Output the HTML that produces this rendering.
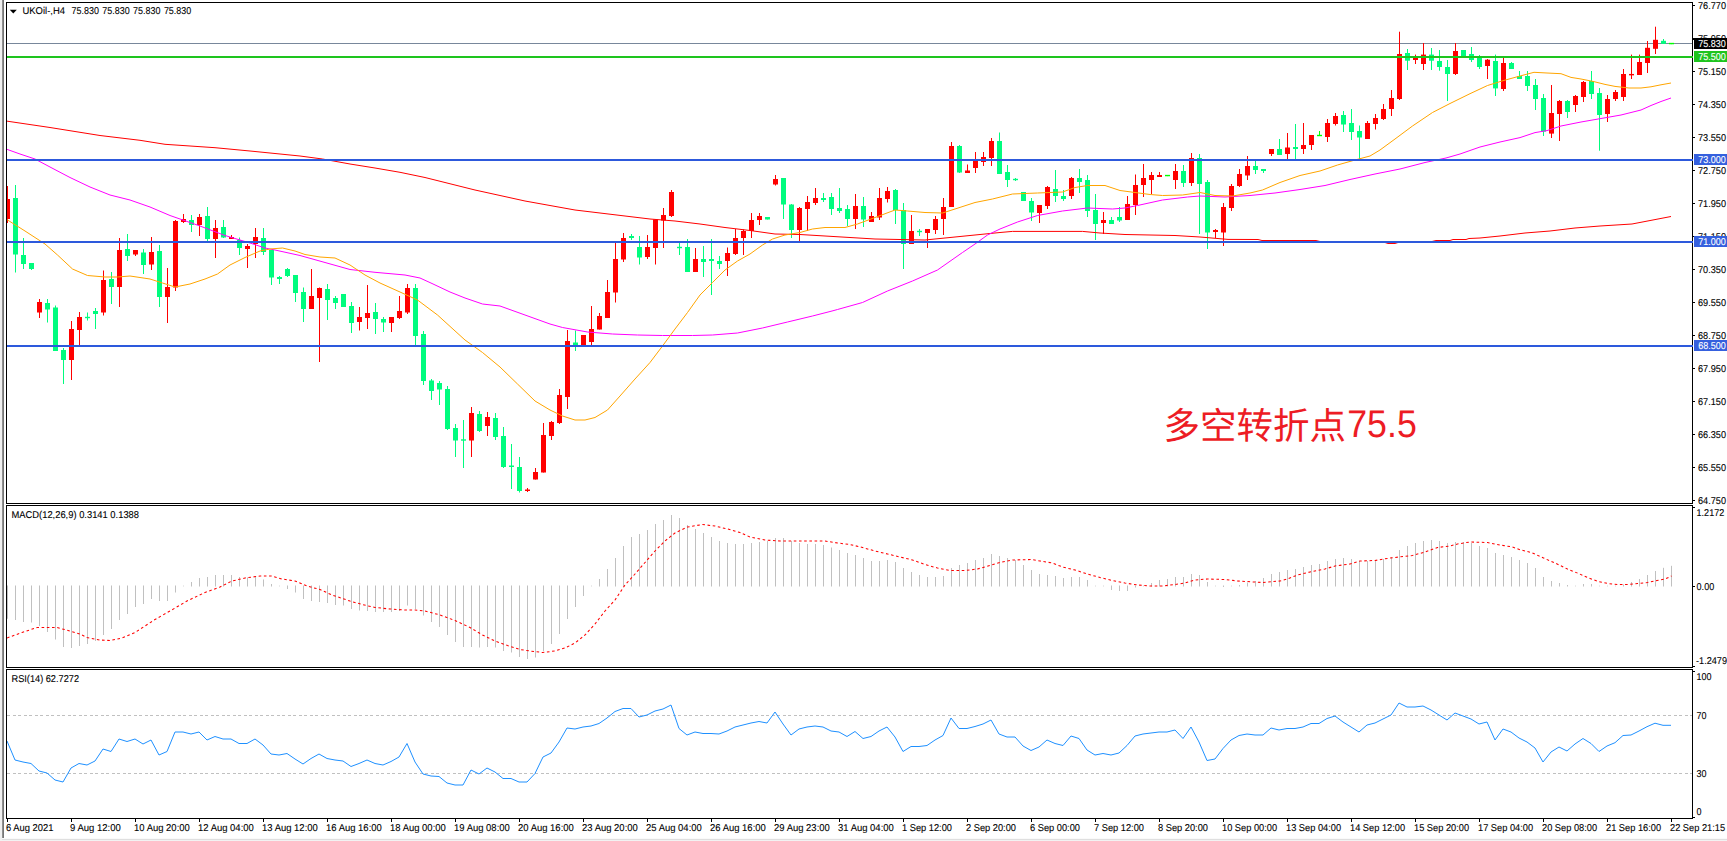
<!DOCTYPE html>
<html lang="zh"><head><meta charset="utf-8"><title>UKOil H4</title>
<style>html,body{margin:0;padding:0;background:#fff;overflow:hidden}svg{display:block}</style></head>
<body>
<svg width="1727" height="841" viewBox="0 0 1727 841" font-family="'Liberation Sans', sans-serif" font-size="9.9px" text-rendering="geometricPrecision">
<rect x="0" y="0" width="1727" height="841" fill="#fff"/>
<g shape-rendering="crispEdges">
<rect x="0" y="0" width="2" height="841" fill="#f0f0f0"/>
<rect x="2" y="0" width="1" height="839" fill="#8f8f8f"/>
<rect x="3" y="0" width="1" height="839" fill="#767676"/>
</g>
<rect x="2" y="838" width="1727" height="1" fill="#fafafa"/>
<rect x="2" y="839" width="1727" height="1" fill="#dfdfdf"/>
<rect x="0" y="840" width="1727" height="1" fill="#f2f2f2"/>
<g shape-rendering="crispEdges">
<rect x="6" y="2" width="1687" height="1" fill="#000"/>
<rect x="6" y="503" width="1687" height="1" fill="#000"/>
<rect x="6" y="2" width="1" height="502" fill="#000"/>
<rect x="1692" y="2" width="1" height="502" fill="#000"/>
<rect x="6" y="505" width="1687" height="1" fill="#000"/>
<rect x="6" y="667" width="1687" height="1" fill="#000"/>
<rect x="6" y="505" width="1" height="163" fill="#000"/>
<rect x="1692" y="505" width="1" height="163" fill="#000"/>
<rect x="6" y="669" width="1687" height="1" fill="#000"/>
<rect x="6" y="818" width="1687" height="1" fill="#000"/>
<rect x="6" y="669" width="1" height="150" fill="#000"/>
<rect x="1692" y="669" width="1" height="150" fill="#000"/>
</g>
<defs><clipPath id="cm"><rect x="7" y="3" width="1685" height="500"/></clipPath><clipPath id="c2"><rect x="7" y="506" width="1685" height="161"/></clipPath><clipPath id="c3"><rect x="7" y="670" width="1685" height="148"/></clipPath></defs>
<g shape-rendering="crispEdges">
<rect x="7" y="43" width="1685" height="1" fill="#78879b"/>
</g>
<g clip-path="url(#cm)">
<rect x="7" y="186" width="1" height="37" fill="#ff0000"/>
<rect x="5" y="199" width="5" height="20" fill="#ff0000"/>
<rect x="15" y="185" width="1" height="87.5" fill="#00fc7e"/>
<rect x="13" y="198" width="5" height="56.5" fill="#00fc7e"/>
<rect x="23" y="238" width="1" height="31" fill="#00fc7e"/>
<rect x="21" y="255" width="5" height="9" fill="#00fc7e"/>
<rect x="31" y="263" width="1" height="7" fill="#00fc7e"/>
<rect x="29" y="263" width="5" height="6" fill="#00fc7e"/>
<rect x="39" y="299" width="1" height="19" fill="#ff0000"/>
<rect x="37" y="302" width="5" height="10.5" fill="#ff0000"/>
<rect x="47" y="299" width="1" height="23.5" fill="#00fc7e"/>
<rect x="45" y="303" width="5" height="6.5" fill="#00fc7e"/>
<rect x="55" y="305.5" width="1" height="45.5" fill="#00fc7e"/>
<rect x="53" y="307.5" width="5" height="43.5" fill="#00fc7e"/>
<rect x="63" y="348" width="1" height="36" fill="#00fc7e"/>
<rect x="61" y="350" width="5" height="10" fill="#00fc7e"/>
<rect x="71" y="321" width="1" height="59" fill="#ff0000"/>
<rect x="69" y="329" width="5" height="31" fill="#ff0000"/>
<rect x="79" y="312" width="1" height="33" fill="#ff0000"/>
<rect x="77" y="317" width="5" height="13" fill="#ff0000"/>
<rect x="87" y="312.5" width="1" height="8" fill="#00fc7e"/>
<rect x="85" y="316.8" width="5" height="1.4" fill="#00fc7e"/>
<rect x="95" y="308" width="1" height="21" fill="#00fc7e"/>
<rect x="93" y="311" width="5" height="3" fill="#00fc7e"/>
<rect x="103" y="270.5" width="1" height="45" fill="#ff0000"/>
<rect x="101" y="280" width="5" height="32.5" fill="#ff0000"/>
<rect x="111" y="272" width="1" height="32" fill="#00fc7e"/>
<rect x="109" y="279" width="5" height="8" fill="#00fc7e"/>
<rect x="119" y="238" width="1" height="69" fill="#ff0000"/>
<rect x="117" y="250" width="5" height="37" fill="#ff0000"/>
<rect x="127" y="234" width="1" height="27" fill="#00fc7e"/>
<rect x="125" y="249" width="5" height="7" fill="#00fc7e"/>
<rect x="135" y="250" width="1" height="6" fill="#ff0000"/>
<rect x="133" y="250" width="5" height="4.5" fill="#ff0000"/>
<rect x="143" y="249" width="1" height="25" fill="#00fc7e"/>
<rect x="141" y="252.5" width="5" height="12.5" fill="#00fc7e"/>
<rect x="151" y="237" width="1" height="33" fill="#ff0000"/>
<rect x="149" y="252" width="5" height="12.5" fill="#ff0000"/>
<rect x="159" y="245" width="1" height="62" fill="#00fc7e"/>
<rect x="157" y="251" width="5" height="46" fill="#00fc7e"/>
<rect x="167" y="268" width="1" height="55" fill="#ff0000"/>
<rect x="165" y="287" width="5" height="10" fill="#ff0000"/>
<rect x="175" y="220" width="1" height="71" fill="#ff0000"/>
<rect x="173" y="221" width="5" height="66.5" fill="#ff0000"/>
<rect x="183" y="214" width="1" height="9" fill="#ff0000"/>
<rect x="181" y="219" width="5" height="3" fill="#ff0000"/>
<rect x="191" y="215" width="1" height="17" fill="#00fc7e"/>
<rect x="189" y="220" width="5" height="5" fill="#00fc7e"/>
<rect x="199" y="214" width="1" height="22" fill="#ff0000"/>
<rect x="197" y="217" width="5" height="8" fill="#ff0000"/>
<rect x="207" y="207" width="1" height="34" fill="#00fc7e"/>
<rect x="205" y="216" width="5" height="23" fill="#00fc7e"/>
<rect x="215" y="220" width="1" height="38" fill="#ff0000"/>
<rect x="213" y="228" width="5" height="11" fill="#ff0000"/>
<rect x="223" y="220" width="1" height="18" fill="#00fc7e"/>
<rect x="221" y="227" width="5" height="10.5" fill="#00fc7e"/>
<rect x="231" y="235" width="1" height="4" fill="#ff0000"/>
<rect x="229" y="237" width="5" height="2" fill="#ff0000"/>
<rect x="239" y="237.5" width="1" height="17.5" fill="#00fc7e"/>
<rect x="237" y="240" width="5" height="8" fill="#00fc7e"/>
<rect x="247" y="244" width="1" height="24" fill="#ff0000"/>
<rect x="245" y="246" width="5" height="3" fill="#ff0000"/>
<rect x="255" y="228" width="1" height="30" fill="#ff0000"/>
<rect x="253" y="237" width="5" height="7" fill="#ff0000"/>
<rect x="263" y="228" width="1" height="27" fill="#00fc7e"/>
<rect x="261" y="238" width="5" height="14" fill="#00fc7e"/>
<rect x="271" y="250" width="1" height="35" fill="#00fc7e"/>
<rect x="269" y="250" width="5" height="27.5" fill="#00fc7e"/>
<rect x="279" y="276" width="1" height="8" fill="#00fc7e"/>
<rect x="277" y="277" width="5" height="2" fill="#00fc7e"/>
<rect x="287" y="268" width="1" height="9" fill="#00fc7e"/>
<rect x="285" y="269" width="5" height="7" fill="#00fc7e"/>
<rect x="295" y="275" width="1" height="27" fill="#00fc7e"/>
<rect x="293" y="275" width="5" height="18" fill="#00fc7e"/>
<rect x="303" y="287.5" width="1" height="34.5" fill="#00fc7e"/>
<rect x="301" y="292" width="5" height="17" fill="#00fc7e"/>
<rect x="311" y="269" width="1" height="40" fill="#ff0000"/>
<rect x="309" y="296" width="5" height="13" fill="#ff0000"/>
<rect x="319" y="287.5" width="1" height="74.5" fill="#ff0000"/>
<rect x="317" y="288" width="5" height="10" fill="#ff0000"/>
<rect x="327" y="284" width="1" height="36" fill="#00fc7e"/>
<rect x="325" y="289" width="5" height="11" fill="#00fc7e"/>
<rect x="335" y="296" width="1" height="13" fill="#00fc7e"/>
<rect x="333" y="298" width="5" height="5" fill="#00fc7e"/>
<rect x="343" y="294" width="1" height="13" fill="#00fc7e"/>
<rect x="341" y="294" width="5" height="13" fill="#00fc7e"/>
<rect x="351" y="302" width="1" height="31" fill="#00fc7e"/>
<rect x="349" y="306" width="5" height="17" fill="#00fc7e"/>
<rect x="359" y="307" width="1" height="23.5" fill="#ff0000"/>
<rect x="357" y="317" width="5" height="5" fill="#ff0000"/>
<rect x="367" y="285" width="1" height="44" fill="#ff0000"/>
<rect x="365" y="313" width="5" height="5" fill="#ff0000"/>
<rect x="375" y="303" width="1" height="31" fill="#00fc7e"/>
<rect x="373" y="312" width="5" height="7" fill="#00fc7e"/>
<rect x="383" y="317" width="1" height="15" fill="#00fc7e"/>
<rect x="381" y="319" width="5" height="3.5" fill="#00fc7e"/>
<rect x="391" y="317" width="1" height="15" fill="#ff0000"/>
<rect x="389" y="317" width="5" height="6" fill="#ff0000"/>
<rect x="399" y="296" width="1" height="23" fill="#ff0000"/>
<rect x="397" y="311" width="5" height="7" fill="#ff0000"/>
<rect x="407" y="284" width="1" height="30" fill="#ff0000"/>
<rect x="405" y="288" width="5" height="24.5" fill="#ff0000"/>
<rect x="415" y="284" width="1" height="62" fill="#00fc7e"/>
<rect x="413" y="288" width="5" height="48" fill="#00fc7e"/>
<rect x="423" y="331" width="1" height="54" fill="#00fc7e"/>
<rect x="421" y="334" width="5" height="47" fill="#00fc7e"/>
<rect x="431" y="379" width="1" height="21" fill="#00fc7e"/>
<rect x="429" y="380.5" width="5" height="10.5" fill="#00fc7e"/>
<rect x="439" y="381" width="1" height="24" fill="#00fc7e"/>
<rect x="437" y="383" width="5" height="6.5" fill="#00fc7e"/>
<rect x="447" y="386" width="1" height="44" fill="#00fc7e"/>
<rect x="445" y="389" width="5" height="40" fill="#00fc7e"/>
<rect x="455" y="424" width="1" height="33" fill="#00fc7e"/>
<rect x="453" y="428" width="5" height="12.5" fill="#00fc7e"/>
<rect x="463" y="420" width="1" height="48" fill="#00fc7e"/>
<rect x="461" y="439.3" width="5" height="1.4" fill="#00fc7e"/>
<rect x="471" y="407" width="1" height="50" fill="#ff0000"/>
<rect x="469" y="413" width="5" height="27.5" fill="#ff0000"/>
<rect x="479" y="411" width="1" height="21" fill="#00fc7e"/>
<rect x="477" y="414" width="5" height="17" fill="#00fc7e"/>
<rect x="487" y="412" width="1" height="24" fill="#ff0000"/>
<rect x="485" y="417" width="5" height="9" fill="#ff0000"/>
<rect x="495" y="413" width="1" height="27" fill="#00fc7e"/>
<rect x="493" y="418" width="5" height="19" fill="#00fc7e"/>
<rect x="503" y="427" width="1" height="41" fill="#00fc7e"/>
<rect x="501" y="436" width="5" height="31" fill="#00fc7e"/>
<rect x="511" y="444" width="1" height="45" fill="#00fc7e"/>
<rect x="509" y="465.5" width="5" height="1.5" fill="#00fc7e"/>
<rect x="519" y="457" width="1" height="35.5" fill="#00fc7e"/>
<rect x="517" y="467" width="5" height="24" fill="#00fc7e"/>
<rect x="527" y="488" width="1" height="4" fill="#ff0000"/>
<rect x="525" y="489.5" width="5" height="1.5" fill="#ff0000"/>
<rect x="535" y="468" width="1" height="11.5" fill="#ff0000"/>
<rect x="533" y="472" width="5" height="7.5" fill="#ff0000"/>
<rect x="543" y="423" width="1" height="49.5" fill="#ff0000"/>
<rect x="541" y="435" width="5" height="37.5" fill="#ff0000"/>
<rect x="551" y="421" width="1" height="19" fill="#ff0000"/>
<rect x="549" y="422" width="5" height="14" fill="#ff0000"/>
<rect x="559" y="389" width="1" height="35" fill="#ff0000"/>
<rect x="557" y="395" width="5" height="28" fill="#ff0000"/>
<rect x="567" y="330" width="1" height="79" fill="#ff0000"/>
<rect x="565" y="341" width="5" height="56" fill="#ff0000"/>
<rect x="575" y="330.5" width="1" height="20.5" fill="#00fc7e"/>
<rect x="573" y="342.5" width="5" height="3.5" fill="#00fc7e"/>
<rect x="583" y="335" width="1" height="11" fill="#ff0000"/>
<rect x="581" y="335" width="5" height="11" fill="#ff0000"/>
<rect x="591" y="306" width="1" height="39" fill="#ff0000"/>
<rect x="589" y="329" width="5" height="13" fill="#ff0000"/>
<rect x="599" y="313" width="1" height="16.5" fill="#ff0000"/>
<rect x="597" y="316" width="5" height="13.5" fill="#ff0000"/>
<rect x="607" y="280" width="1" height="38" fill="#ff0000"/>
<rect x="605" y="292" width="5" height="26" fill="#ff0000"/>
<rect x="615" y="242.5" width="1" height="60" fill="#ff0000"/>
<rect x="613" y="259" width="5" height="33.5" fill="#ff0000"/>
<rect x="623" y="233" width="1" height="29" fill="#ff0000"/>
<rect x="621" y="238" width="5" height="21.5" fill="#ff0000"/>
<rect x="631" y="234" width="1" height="6" fill="#00fc7e"/>
<rect x="629" y="236" width="5" height="2" fill="#00fc7e"/>
<rect x="639" y="236" width="1" height="28.5" fill="#00fc7e"/>
<rect x="637" y="247" width="5" height="10.5" fill="#00fc7e"/>
<rect x="647" y="235" width="1" height="24" fill="#ff0000"/>
<rect x="645" y="247" width="5" height="10" fill="#ff0000"/>
<rect x="655" y="219.5" width="1" height="45" fill="#ff0000"/>
<rect x="653" y="219.5" width="5" height="28.5" fill="#ff0000"/>
<rect x="663" y="208" width="1" height="40" fill="#ff0000"/>
<rect x="661" y="215" width="5" height="5.5" fill="#ff0000"/>
<rect x="671" y="190" width="1" height="27" fill="#ff0000"/>
<rect x="669" y="192" width="5" height="24" fill="#ff0000"/>
<rect x="679" y="243" width="1" height="12" fill="#00fc7e"/>
<rect x="677" y="246.8" width="5" height="1.4" fill="#00fc7e"/>
<rect x="687" y="239" width="1" height="33" fill="#00fc7e"/>
<rect x="685" y="247" width="5" height="25" fill="#00fc7e"/>
<rect x="695" y="248" width="1" height="24" fill="#ff0000"/>
<rect x="693" y="259" width="5" height="13" fill="#ff0000"/>
<rect x="703" y="246" width="1" height="31" fill="#00fc7e"/>
<rect x="701" y="259" width="5" height="3" fill="#00fc7e"/>
<rect x="711" y="239" width="1" height="56" fill="#00fc7e"/>
<rect x="709" y="259" width="5" height="2" fill="#00fc7e"/>
<rect x="719" y="256" width="1" height="13" fill="#00fc7e"/>
<rect x="717" y="261" width="5" height="3" fill="#00fc7e"/>
<rect x="727" y="247.5" width="1" height="28.5" fill="#ff0000"/>
<rect x="725" y="253" width="5" height="8" fill="#ff0000"/>
<rect x="735" y="229" width="1" height="26" fill="#ff0000"/>
<rect x="733" y="238" width="5" height="16" fill="#ff0000"/>
<rect x="743" y="229.5" width="1" height="25.5" fill="#ff0000"/>
<rect x="741" y="231" width="5" height="7" fill="#ff0000"/>
<rect x="751" y="213" width="1" height="25" fill="#ff0000"/>
<rect x="749" y="220" width="5" height="11" fill="#ff0000"/>
<rect x="759" y="213" width="1" height="12" fill="#ff0000"/>
<rect x="757" y="216" width="5" height="4" fill="#ff0000"/>
<rect x="767" y="217" width="1" height="2.5" fill="#00fc7e"/>
<rect x="765" y="217" width="5" height="2.5" fill="#00fc7e"/>
<rect x="775" y="175" width="1" height="10.5" fill="#ff0000"/>
<rect x="773" y="179" width="5" height="5.5" fill="#ff0000"/>
<rect x="783" y="178" width="1" height="41" fill="#00fc7e"/>
<rect x="781" y="178" width="5" height="26.5" fill="#00fc7e"/>
<rect x="791" y="204" width="1" height="34" fill="#00fc7e"/>
<rect x="789" y="204.5" width="5" height="25.5" fill="#00fc7e"/>
<rect x="799" y="207" width="1" height="34" fill="#ff0000"/>
<rect x="797" y="208" width="5" height="22" fill="#ff0000"/>
<rect x="807" y="196" width="1" height="35" fill="#ff0000"/>
<rect x="805" y="202" width="5" height="7" fill="#ff0000"/>
<rect x="815" y="188" width="1" height="17" fill="#ff0000"/>
<rect x="813" y="198" width="5" height="5" fill="#ff0000"/>
<rect x="823" y="193" width="1" height="9" fill="#00fc7e"/>
<rect x="821" y="198" width="5" height="2" fill="#00fc7e"/>
<rect x="831" y="193" width="1" height="22" fill="#00fc7e"/>
<rect x="829" y="197" width="5" height="12" fill="#00fc7e"/>
<rect x="839" y="188" width="1" height="25" fill="#00fc7e"/>
<rect x="837" y="208" width="5" height="3" fill="#00fc7e"/>
<rect x="847" y="205" width="1" height="21" fill="#00fc7e"/>
<rect x="845" y="209" width="5" height="10" fill="#00fc7e"/>
<rect x="855" y="194" width="1" height="35" fill="#ff0000"/>
<rect x="853" y="206" width="5" height="13" fill="#ff0000"/>
<rect x="863" y="197" width="1" height="30" fill="#00fc7e"/>
<rect x="861" y="206" width="5" height="13.5" fill="#00fc7e"/>
<rect x="871" y="212" width="1" height="10" fill="#ff0000"/>
<rect x="869" y="216" width="5" height="6" fill="#ff0000"/>
<rect x="879" y="188" width="1" height="32" fill="#ff0000"/>
<rect x="877" y="198" width="5" height="19.5" fill="#ff0000"/>
<rect x="887" y="187" width="1" height="15.5" fill="#ff0000"/>
<rect x="885" y="191" width="5" height="8" fill="#ff0000"/>
<rect x="895" y="189" width="1" height="35" fill="#00fc7e"/>
<rect x="893" y="190" width="5" height="20" fill="#00fc7e"/>
<rect x="903" y="203" width="1" height="66" fill="#00fc7e"/>
<rect x="901" y="210" width="5" height="34" fill="#00fc7e"/>
<rect x="911" y="215" width="1" height="29" fill="#ff0000"/>
<rect x="909" y="231" width="5" height="13" fill="#ff0000"/>
<rect x="919" y="229" width="1" height="7" fill="#00fc7e"/>
<rect x="917" y="230.8" width="5" height="1.4" fill="#00fc7e"/>
<rect x="927" y="229" width="1" height="19" fill="#ff0000"/>
<rect x="925" y="229" width="5" height="4" fill="#ff0000"/>
<rect x="935" y="216" width="1" height="18" fill="#ff0000"/>
<rect x="933" y="219" width="5" height="11" fill="#ff0000"/>
<rect x="943" y="198" width="1" height="37" fill="#ff0000"/>
<rect x="941" y="207" width="5" height="12" fill="#ff0000"/>
<rect x="951" y="142" width="1" height="65" fill="#ff0000"/>
<rect x="949" y="146" width="5" height="61" fill="#ff0000"/>
<rect x="959" y="145" width="1" height="28" fill="#00fc7e"/>
<rect x="957" y="146" width="5" height="26.5" fill="#00fc7e"/>
<rect x="967" y="164.5" width="1" height="8.5" fill="#ff0000"/>
<rect x="965" y="170.5" width="5" height="2.5" fill="#ff0000"/>
<rect x="975" y="152" width="1" height="21" fill="#ff0000"/>
<rect x="973" y="160" width="5" height="8" fill="#ff0000"/>
<rect x="983" y="152" width="1" height="14" fill="#ff0000"/>
<rect x="981" y="157" width="5" height="5" fill="#ff0000"/>
<rect x="991" y="138" width="1" height="28" fill="#ff0000"/>
<rect x="989" y="141" width="5" height="17" fill="#ff0000"/>
<rect x="999" y="132.5" width="1" height="41.5" fill="#00fc7e"/>
<rect x="997" y="141" width="5" height="33" fill="#00fc7e"/>
<rect x="1007" y="165" width="1" height="22" fill="#00fc7e"/>
<rect x="1005" y="172" width="5" height="8" fill="#00fc7e"/>
<rect x="1015" y="178" width="1" height="3" fill="#00fc7e"/>
<rect x="1013" y="178.8" width="5" height="1.4" fill="#00fc7e"/>
<rect x="1023" y="192" width="1" height="9" fill="#00fc7e"/>
<rect x="1021" y="192" width="5" height="9" fill="#00fc7e"/>
<rect x="1031" y="198" width="1" height="23" fill="#00fc7e"/>
<rect x="1029" y="201" width="5" height="11.5" fill="#00fc7e"/>
<rect x="1039" y="205" width="1" height="18" fill="#ff0000"/>
<rect x="1037" y="205" width="5" height="8" fill="#ff0000"/>
<rect x="1047" y="186" width="1" height="23" fill="#ff0000"/>
<rect x="1045" y="187" width="5" height="19" fill="#ff0000"/>
<rect x="1055" y="170" width="1" height="32" fill="#00fc7e"/>
<rect x="1053" y="189" width="5" height="7" fill="#00fc7e"/>
<rect x="1063" y="190" width="1" height="11" fill="#00fc7e"/>
<rect x="1061" y="196" width="5" height="3" fill="#00fc7e"/>
<rect x="1071" y="177" width="1" height="22" fill="#ff0000"/>
<rect x="1069" y="178" width="5" height="18" fill="#ff0000"/>
<rect x="1079" y="169" width="1" height="24" fill="#00fc7e"/>
<rect x="1077" y="178" width="5" height="4" fill="#00fc7e"/>
<rect x="1087" y="175" width="1" height="42" fill="#00fc7e"/>
<rect x="1085" y="180" width="5" height="31" fill="#00fc7e"/>
<rect x="1095" y="194" width="1" height="46" fill="#00fc7e"/>
<rect x="1093" y="210" width="5" height="14" fill="#00fc7e"/>
<rect x="1103" y="212" width="1" height="22" fill="#ff0000"/>
<rect x="1101" y="220" width="5" height="3" fill="#ff0000"/>
<rect x="1111" y="217" width="1" height="7" fill="#00fc7e"/>
<rect x="1109" y="220" width="5" height="4" fill="#00fc7e"/>
<rect x="1119" y="207" width="1" height="15" fill="#00fc7e"/>
<rect x="1117" y="217" width="5" height="3.5" fill="#00fc7e"/>
<rect x="1127" y="196" width="1" height="24" fill="#ff0000"/>
<rect x="1125" y="204" width="5" height="16" fill="#ff0000"/>
<rect x="1135" y="174.5" width="1" height="40.5" fill="#ff0000"/>
<rect x="1133" y="185" width="5" height="20" fill="#ff0000"/>
<rect x="1143" y="164" width="1" height="33" fill="#ff0000"/>
<rect x="1141" y="178" width="5" height="7" fill="#ff0000"/>
<rect x="1151" y="172" width="1" height="22" fill="#ff0000"/>
<rect x="1149" y="175" width="5" height="5" fill="#ff0000"/>
<rect x="1159" y="172" width="1" height="5" fill="#ff0000"/>
<rect x="1157" y="175" width="5" height="2" fill="#ff0000"/>
<rect x="1167" y="175" width="1" height="1.1" fill="#00ff00"/>
<rect x="1165" y="174.85" width="5" height="1.4" fill="#00ff00"/>
<rect x="1175" y="164" width="1" height="25" fill="#ff0000"/>
<rect x="1173" y="171" width="5" height="9" fill="#ff0000"/>
<rect x="1183" y="165" width="1" height="22" fill="#00fc7e"/>
<rect x="1181" y="171" width="5" height="12" fill="#00fc7e"/>
<rect x="1191" y="153" width="1" height="33" fill="#ff0000"/>
<rect x="1189" y="158" width="5" height="25" fill="#ff0000"/>
<rect x="1199" y="154" width="1" height="80" fill="#00fc7e"/>
<rect x="1197" y="158" width="5" height="26" fill="#00fc7e"/>
<rect x="1207" y="180" width="1" height="69" fill="#00fc7e"/>
<rect x="1205" y="182" width="5" height="50.5" fill="#00fc7e"/>
<rect x="1215" y="229" width="1" height="9" fill="#ff0000"/>
<rect x="1213" y="230" width="5" height="2" fill="#ff0000"/>
<rect x="1223" y="203" width="1" height="43" fill="#ff0000"/>
<rect x="1221" y="207" width="5" height="25.5" fill="#ff0000"/>
<rect x="1231" y="184" width="1" height="27" fill="#ff0000"/>
<rect x="1229" y="186" width="5" height="22" fill="#ff0000"/>
<rect x="1239" y="169" width="1" height="18" fill="#ff0000"/>
<rect x="1237" y="174" width="5" height="12" fill="#ff0000"/>
<rect x="1247" y="156" width="1" height="24" fill="#ff0000"/>
<rect x="1245" y="166" width="5" height="9.5" fill="#ff0000"/>
<rect x="1255" y="161" width="1" height="13" fill="#00fc7e"/>
<rect x="1253" y="166" width="5" height="4" fill="#00fc7e"/>
<rect x="1263" y="169" width="1" height="4" fill="#00fc7e"/>
<rect x="1261" y="169" width="5" height="2" fill="#00fc7e"/>
<rect x="1271" y="149" width="1" height="7" fill="#ff0000"/>
<rect x="1269" y="149" width="5" height="5" fill="#ff0000"/>
<rect x="1279" y="139" width="1" height="16" fill="#00fc7e"/>
<rect x="1277" y="149" width="5" height="6" fill="#00fc7e"/>
<rect x="1287" y="133" width="1" height="26" fill="#ff0000"/>
<rect x="1285" y="147.5" width="5" height="6.5" fill="#ff0000"/>
<rect x="1295" y="124" width="1" height="35" fill="#00fc7e"/>
<rect x="1293" y="147" width="5" height="2" fill="#00fc7e"/>
<rect x="1303" y="123" width="1" height="31" fill="#ff0000"/>
<rect x="1301" y="145" width="5" height="4" fill="#ff0000"/>
<rect x="1311" y="135" width="1" height="15" fill="#ff0000"/>
<rect x="1309" y="135" width="5" height="10" fill="#ff0000"/>
<rect x="1319" y="131" width="1" height="5" fill="#00ff00"/>
<rect x="1317" y="134.8" width="5" height="1.4" fill="#00ff00"/>
<rect x="1327" y="119" width="1" height="23" fill="#ff0000"/>
<rect x="1325" y="123" width="5" height="14" fill="#ff0000"/>
<rect x="1335" y="113" width="1" height="12.5" fill="#ff0000"/>
<rect x="1333" y="116" width="5" height="8" fill="#ff0000"/>
<rect x="1343" y="111" width="1" height="21" fill="#00fc7e"/>
<rect x="1341" y="115" width="5" height="9.5" fill="#00fc7e"/>
<rect x="1351" y="109" width="1" height="31" fill="#00fc7e"/>
<rect x="1349" y="123" width="5" height="9" fill="#00fc7e"/>
<rect x="1359" y="125.5" width="1" height="33.5" fill="#00fc7e"/>
<rect x="1357" y="131" width="5" height="6.5" fill="#00fc7e"/>
<rect x="1367" y="121" width="1" height="18" fill="#ff0000"/>
<rect x="1365" y="123" width="5" height="16" fill="#ff0000"/>
<rect x="1375" y="114" width="1" height="15.5" fill="#ff0000"/>
<rect x="1373" y="118" width="5" height="6" fill="#ff0000"/>
<rect x="1383" y="104" width="1" height="16" fill="#ff0000"/>
<rect x="1381" y="109" width="5" height="10" fill="#ff0000"/>
<rect x="1391" y="90" width="1" height="26" fill="#ff0000"/>
<rect x="1389" y="98" width="5" height="11" fill="#ff0000"/>
<rect x="1399" y="31.7" width="1" height="68.3" fill="#ff0000"/>
<rect x="1397" y="54" width="5" height="45" fill="#ff0000"/>
<rect x="1407" y="49" width="1" height="21" fill="#00fc7e"/>
<rect x="1405" y="53" width="5" height="7.7" fill="#00fc7e"/>
<rect x="1415" y="54.6" width="1" height="9.4" fill="#ff0000"/>
<rect x="1413" y="58" width="5" height="2" fill="#ff0000"/>
<rect x="1423" y="43" width="1" height="27" fill="#ff0000"/>
<rect x="1421" y="54.6" width="5" height="9.4" fill="#ff0000"/>
<rect x="1431" y="48" width="1" height="22" fill="#00fc7e"/>
<rect x="1429" y="54.6" width="5" height="6.1" fill="#00fc7e"/>
<rect x="1439" y="50" width="1" height="20.7" fill="#00fc7e"/>
<rect x="1437" y="61" width="5" height="6" fill="#00fc7e"/>
<rect x="1447" y="60" width="1" height="41" fill="#00fc7e"/>
<rect x="1445" y="67" width="5" height="7" fill="#00fc7e"/>
<rect x="1455" y="43" width="1" height="32" fill="#ff0000"/>
<rect x="1453" y="51" width="5" height="23" fill="#ff0000"/>
<rect x="1463" y="50" width="1" height="6" fill="#00fc7e"/>
<rect x="1461" y="50" width="5" height="6" fill="#00fc7e"/>
<rect x="1471" y="47" width="1" height="15" fill="#00fc7e"/>
<rect x="1469" y="54" width="5" height="6" fill="#00fc7e"/>
<rect x="1479" y="55" width="1" height="14" fill="#00fc7e"/>
<rect x="1477" y="58" width="5" height="9" fill="#00fc7e"/>
<rect x="1487" y="59" width="1" height="20" fill="#ff0000"/>
<rect x="1485" y="59.7" width="5" height="6.3" fill="#ff0000"/>
<rect x="1495" y="54.6" width="1" height="41.4" fill="#00fc7e"/>
<rect x="1493" y="61" width="5" height="27.4" fill="#00fc7e"/>
<rect x="1503" y="58" width="1" height="33" fill="#ff0000"/>
<rect x="1501" y="63" width="5" height="26" fill="#ff0000"/>
<rect x="1511" y="62" width="1" height="7" fill="#00fc7e"/>
<rect x="1509" y="63" width="5" height="6" fill="#00fc7e"/>
<rect x="1519" y="71" width="1" height="8" fill="#00fc7e"/>
<rect x="1517" y="76" width="5" height="3" fill="#00fc7e"/>
<rect x="1527" y="71" width="1" height="20" fill="#00fc7e"/>
<rect x="1525" y="76" width="5" height="10" fill="#00fc7e"/>
<rect x="1535" y="79" width="1" height="31" fill="#00fc7e"/>
<rect x="1533" y="85" width="5" height="14" fill="#00fc7e"/>
<rect x="1543" y="94" width="1" height="42" fill="#00fc7e"/>
<rect x="1541" y="98" width="5" height="33.6" fill="#00fc7e"/>
<rect x="1551" y="85" width="1" height="53" fill="#ff0000"/>
<rect x="1549" y="113" width="5" height="20.6" fill="#ff0000"/>
<rect x="1559" y="100" width="1" height="41" fill="#ff0000"/>
<rect x="1557" y="101" width="5" height="13" fill="#ff0000"/>
<rect x="1567" y="100" width="1" height="18" fill="#00fc7e"/>
<rect x="1565" y="101" width="5" height="11" fill="#00fc7e"/>
<rect x="1575" y="95" width="1" height="17" fill="#ff0000"/>
<rect x="1573" y="96" width="5" height="9" fill="#ff0000"/>
<rect x="1583" y="81" width="1" height="21" fill="#ff0000"/>
<rect x="1581" y="82" width="5" height="15" fill="#ff0000"/>
<rect x="1591" y="71" width="1" height="28" fill="#00fc7e"/>
<rect x="1589" y="81" width="5" height="13" fill="#00fc7e"/>
<rect x="1599" y="88" width="1" height="62.7" fill="#00fc7e"/>
<rect x="1597" y="93" width="5" height="22" fill="#00fc7e"/>
<rect x="1607" y="95" width="1" height="27" fill="#ff0000"/>
<rect x="1605" y="99" width="5" height="15" fill="#ff0000"/>
<rect x="1615" y="90" width="1" height="11" fill="#ff0000"/>
<rect x="1613" y="92" width="5" height="7" fill="#ff0000"/>
<rect x="1623" y="69" width="1" height="32" fill="#ff0000"/>
<rect x="1621" y="74" width="5" height="23" fill="#ff0000"/>
<rect x="1631" y="54.6" width="1" height="24.4" fill="#ff0000"/>
<rect x="1629" y="73.95" width="5" height="1.4" fill="#ff0000"/>
<rect x="1639" y="54.6" width="1" height="20.4" fill="#ff0000"/>
<rect x="1637" y="62" width="5" height="13" fill="#ff0000"/>
<rect x="1647" y="41" width="1" height="32" fill="#ff0000"/>
<rect x="1645" y="47.8" width="5" height="15.2" fill="#ff0000"/>
<rect x="1655" y="26.7" width="1" height="27.3" fill="#ff0000"/>
<rect x="1653" y="39.8" width="5" height="9" fill="#ff0000"/>
<rect x="1663" y="39" width="1" height="4.8" fill="#00fc7e"/>
<rect x="1661" y="40.8" width="5" height="3" fill="#00fc7e"/>
<rect x="1671" y="43" width="1" height="1.1" fill="#00ff00"/>
<rect x="1669" y="42.85" width="5" height="1.4" fill="#00ff00"/>
</g>
<polyline points="6,121 50,127.5 100,135.5 140,140.3 165,144.3 215,147.7 250,151 300,156 322.5,159 350,164 375,168 400,172.3 425,177.5 475,190 525,201 575,210 625,216 650,219 675,221 700,224 725,227.5 750,230.5 775,234 800,234.5 825,236 850,237.5 875,239 900,239.5 925,240 950,237.5 975,235 1000,232.5 1012.5,231.4 1050,231.4 1082.5,231.4 1100,233 1125,234.5 1150,235 1175,235.5 1200,237 1228,239.4 1258,239.5 1262,240.5 1316,240.5 1320,241.5 1385,242.5 1388,243.5 1395,243.5 1398,242.5 1432,241.5 1436,240.5 1450,240.5 1453,239.5 1466,239.5 1469,238.5 1480,238 1500,236 1525,233 1550,231 1575,228 1600,226 1632,224 1671,216.5" fill="none" stroke="#ff0000" stroke-width="1.0" stroke-linejoin="round" clip-path="url(#cm)"/>
<polyline points="6,149 20,154 35,159 50,167 70,177.5 90,187 110,195 130,200 150,207 170,215.5 180,219 200,226 225,235.5 250,243 265,248 275,250 300,255.5 325,262.5 350,269.5 375,272.3 405,275 420,278 432,283.5 450,292 465,298 482.5,304 500,306 525,315 550,324 562.5,327.5 587.5,332 612.5,334 637.5,335 662.5,335.5 692.5,335.5 712.5,335 737.5,333 762.5,328 787.5,322 812.5,316 832,311 837.5,309.5 862.5,302.5 887.5,291 912.5,281 937.5,270 962.5,252.5 975,244 987.5,235 1000,229 1017.5,222 1037.5,215.5 1062.5,211 1087.5,208 1112.5,209 1125,208 1137.5,205.5 1162.5,200 1187.5,197 1200,196 1225,197 1250,195.5 1275,193 1300,189.5 1325,185.5 1350,179.5 1375,174 1400,169 1425,162.5 1446,158 1460,154 1480,147 1500,142 1520,137.6 1535,132.6 1547,130.6 1561,126 1581,122 1601,118.5 1621,115 1641,110 1651,105.5 1661,101.5 1671,98" fill="none" stroke="#ff00ff" stroke-width="1.0" stroke-linejoin="round" clip-path="url(#cm)"/>
<polyline points="6,219 25,231 45,244 57.5,255 72.5,269 87.5,275.5 105,277 117.5,277 130,276 150,279 162.5,283 175,287 190,284 205,279 217.5,274 230,265 245,257.5 260,251 270,249 282.5,248 295,251 305,254.5 320,257 335,258 350,265 365,275 380,283 400,292 417.5,300 437.5,315 465,340 482.5,352.5 500,367 517.5,384 535,401 550,410 562.5,416 575,420 585,420 595,417.5 607.5,410 620,396 635,379 650,362.5 662.5,346 675,329 687.5,312.5 700,295 712.5,282.5 725,270 737.5,261 750,254 762.5,245 772.5,239 785,235 800,232.5 812.5,229 825,227.5 845,227.5 857.5,224 875,217.5 895,210 907.5,211 925,212.5 942.5,213 955,209 975,202.5 992.5,199 1012.5,194 1037.5,193 1062.5,192 1075,187.5 1087.5,185.5 1105,185.5 1120,190.5 1135,192.5 1150,194.5 1162.5,195.5 1182.5,195 1200,192.5 1215,195.5 1232.5,196 1250,193 1262.5,190 1280,182.5 1300,175.5 1320,171 1337.5,165 1355,160 1370,156 1380,150 1395,139 1412.5,126 1432.5,112.5 1450,103.5 1470,93.7 1487.5,85.5 1504,80.4 1520,76 1534,72.3 1547,73 1561,73.7 1571,77.4 1581,79 1593,81.4 1605,84.4 1615,86.4 1629,88 1641,88 1651,86.8 1661,84.8 1671,83" fill="none" stroke="#ffa500" stroke-width="1.0" stroke-linejoin="round" clip-path="url(#cm)"/>
<g shape-rendering="crispEdges">
<rect x="7" y="56" width="1686" height="2" fill="#1ec41e"/>
<rect x="7" y="159" width="1686" height="2.1" fill="#2d59dc"/>
<rect x="7" y="241" width="1686" height="2.1" fill="#2d59dc"/>
<rect x="7" y="345" width="1686" height="2.1" fill="#2d59dc"/>
</g>
<text x="1163.6" y="438.9" fill="#ed1c24" font-size="37px" font-family="'Liberation Sans', 'Noto Sans CJK SC', sans-serif" textLength="182.4" lengthAdjust="spacingAndGlyphs">多空转折点</text>
<text x="1347.2" y="437.4" fill="#ed1c24" font-size="38.6px" font-family="'Liberation Sans', 'Noto Sans CJK SC', sans-serif" textLength="69.6" lengthAdjust="spacingAndGlyphs">75.5</text>
<g clip-path="url(#c2)">
<rect x="7" y="585.5" width="1" height="33.25" fill="#c0c0c0"/>
<rect x="15" y="585.5" width="1" height="34.5" fill="#c0c0c0"/>
<rect x="23" y="585.5" width="1" height="36.5" fill="#c0c0c0"/>
<rect x="31" y="585.5" width="1" height="37" fill="#c0c0c0"/>
<rect x="39" y="585.5" width="1" height="40.5" fill="#c0c0c0"/>
<rect x="47" y="585.5" width="1" height="46.5" fill="#c0c0c0"/>
<rect x="55" y="585.5" width="1" height="54" fill="#c0c0c0"/>
<rect x="63" y="585.5" width="1" height="61.5" fill="#c0c0c0"/>
<rect x="71" y="585.5" width="1" height="62.5" fill="#c0c0c0"/>
<rect x="79" y="585.5" width="1" height="60.5" fill="#c0c0c0"/>
<rect x="87" y="585.5" width="1" height="58.5" fill="#c0c0c0"/>
<rect x="95" y="585.5" width="1" height="55.5" fill="#c0c0c0"/>
<rect x="103" y="585.5" width="1" height="49.5" fill="#c0c0c0"/>
<rect x="111" y="585.5" width="1" height="43.5" fill="#c0c0c0"/>
<rect x="119" y="585.5" width="1" height="34.5" fill="#c0c0c0"/>
<rect x="127" y="585.5" width="1" height="28.5" fill="#c0c0c0"/>
<rect x="135" y="585.5" width="1" height="21.5" fill="#c0c0c0"/>
<rect x="143" y="585.5" width="1" height="18.5" fill="#c0c0c0"/>
<rect x="151" y="585.5" width="1" height="13.5" fill="#c0c0c0"/>
<rect x="159" y="585.5" width="1" height="15.5" fill="#c0c0c0"/>
<rect x="167" y="585.5" width="1" height="15.5" fill="#c0c0c0"/>
<rect x="175" y="585.5" width="1" height="7" fill="#c0c0c0"/>
<rect x="183" y="585.5" width="1" height="1" fill="#c0c0c0" opacity="0.6"/>
<rect x="191" y="582" width="1" height="4.5" fill="#c0c0c0"/>
<rect x="199" y="578" width="1" height="8.5" fill="#c0c0c0"/>
<rect x="207" y="577" width="1" height="9.5" fill="#c0c0c0"/>
<rect x="215" y="575" width="1" height="11.5" fill="#c0c0c0"/>
<rect x="223" y="575" width="1" height="11.5" fill="#c0c0c0"/>
<rect x="231" y="575" width="1" height="11.5" fill="#c0c0c0"/>
<rect x="239" y="577" width="1" height="9.5" fill="#c0c0c0"/>
<rect x="247" y="577.5" width="1" height="9" fill="#c0c0c0"/>
<rect x="255" y="576" width="1" height="10.5" fill="#c0c0c0"/>
<rect x="263" y="579.5" width="1" height="7" fill="#c0c0c0"/>
<rect x="271" y="584" width="1" height="2.5" fill="#c0c0c0"/>
<rect x="279" y="585.5" width="1" height="1" fill="#c0c0c0" opacity="0.6"/>
<rect x="287" y="585.5" width="1" height="3.5" fill="#c0c0c0"/>
<rect x="295" y="585.5" width="1" height="7" fill="#c0c0c0"/>
<rect x="303" y="585.5" width="1" height="13.5" fill="#c0c0c0"/>
<rect x="311" y="585.5" width="1" height="15.5" fill="#c0c0c0"/>
<rect x="319" y="585.5" width="1" height="16.5" fill="#c0c0c0"/>
<rect x="327" y="585.5" width="1" height="17.5" fill="#c0c0c0"/>
<rect x="335" y="585.5" width="1" height="19.5" fill="#c0c0c0"/>
<rect x="343" y="585.5" width="1" height="20" fill="#c0c0c0"/>
<rect x="351" y="585.5" width="1" height="23.5" fill="#c0c0c0"/>
<rect x="359" y="585.5" width="1" height="25" fill="#c0c0c0"/>
<rect x="367" y="585.5" width="1" height="25.5" fill="#c0c0c0"/>
<rect x="375" y="585.5" width="1" height="26.5" fill="#c0c0c0"/>
<rect x="383" y="585.5" width="1" height="26.5" fill="#c0c0c0"/>
<rect x="391" y="585.5" width="1" height="26.5" fill="#c0c0c0"/>
<rect x="399" y="585.5" width="1" height="25.5" fill="#c0c0c0"/>
<rect x="407" y="585.5" width="1" height="20" fill="#c0c0c0"/>
<rect x="415" y="585.5" width="1" height="23.5" fill="#c0c0c0"/>
<rect x="423" y="585.5" width="1" height="30" fill="#c0c0c0"/>
<rect x="431" y="585.5" width="1" height="36.5" fill="#c0c0c0"/>
<rect x="439" y="585.5" width="1" height="41.5" fill="#c0c0c0"/>
<rect x="447" y="585.5" width="1" height="49.5" fill="#c0c0c0"/>
<rect x="455" y="585.5" width="1" height="56.5" fill="#c0c0c0"/>
<rect x="463" y="585.5" width="1" height="61.5" fill="#c0c0c0"/>
<rect x="471" y="585.5" width="1" height="61.5" fill="#c0c0c0"/>
<rect x="479" y="585.5" width="1" height="62" fill="#c0c0c0"/>
<rect x="487" y="585.5" width="1" height="61.5" fill="#c0c0c0"/>
<rect x="495" y="585.5" width="1" height="62" fill="#c0c0c0"/>
<rect x="503" y="585.5" width="1" height="65.5" fill="#c0c0c0"/>
<rect x="511" y="585.5" width="1" height="67" fill="#c0c0c0"/>
<rect x="519" y="585.5" width="1" height="71.5" fill="#c0c0c0"/>
<rect x="527" y="585.5" width="1" height="73.5" fill="#c0c0c0"/>
<rect x="535" y="585.5" width="1" height="72" fill="#c0c0c0"/>
<rect x="543" y="585.5" width="1" height="65.5" fill="#c0c0c0"/>
<rect x="551" y="585.5" width="1" height="58.5" fill="#c0c0c0"/>
<rect x="559" y="585.5" width="1" height="48.5" fill="#c0c0c0"/>
<rect x="567" y="585.5" width="1" height="33.5" fill="#c0c0c0"/>
<rect x="575" y="585.5" width="1" height="21.5" fill="#c0c0c0"/>
<rect x="583" y="585.5" width="1" height="10.5" fill="#c0c0c0"/>
<rect x="591" y="585.5" width="1" height="1" fill="#c0c0c0" opacity="0.6"/>
<rect x="599" y="579" width="1" height="7.5" fill="#c0c0c0"/>
<rect x="607" y="569" width="1" height="17.5" fill="#c0c0c0"/>
<rect x="615" y="558" width="1" height="28.5" fill="#c0c0c0"/>
<rect x="623" y="546" width="1" height="40.5" fill="#c0c0c0"/>
<rect x="631" y="537" width="1" height="49.5" fill="#c0c0c0"/>
<rect x="639" y="534" width="1" height="52.5" fill="#c0c0c0"/>
<rect x="647" y="530" width="1" height="56.5" fill="#c0c0c0"/>
<rect x="655" y="524" width="1" height="62.5" fill="#c0c0c0"/>
<rect x="663" y="520" width="1" height="66.5" fill="#c0c0c0"/>
<rect x="671" y="515" width="1" height="71.5" fill="#c0c0c0"/>
<rect x="679" y="518" width="1" height="68.5" fill="#c0c0c0"/>
<rect x="687" y="525" width="1" height="61.5" fill="#c0c0c0"/>
<rect x="695" y="529" width="1" height="57.5" fill="#c0c0c0"/>
<rect x="703" y="533" width="1" height="53.5" fill="#c0c0c0"/>
<rect x="711" y="537" width="1" height="49.5" fill="#c0c0c0"/>
<rect x="719" y="541" width="1" height="45.5" fill="#c0c0c0"/>
<rect x="727" y="543" width="1" height="43.5" fill="#c0c0c0"/>
<rect x="735" y="544" width="1" height="42.5" fill="#c0c0c0"/>
<rect x="743" y="544" width="1" height="42.5" fill="#c0c0c0"/>
<rect x="751" y="543" width="1" height="43.5" fill="#c0c0c0"/>
<rect x="759" y="542" width="1" height="44.5" fill="#c0c0c0"/>
<rect x="767" y="541" width="1" height="45.5" fill="#c0c0c0"/>
<rect x="775" y="538" width="1" height="48.5" fill="#c0c0c0"/>
<rect x="783" y="538" width="1" height="48.5" fill="#c0c0c0"/>
<rect x="791" y="541" width="1" height="45.5" fill="#c0c0c0"/>
<rect x="799" y="543" width="1" height="43.5" fill="#c0c0c0"/>
<rect x="807" y="544" width="1" height="42.5" fill="#c0c0c0"/>
<rect x="815" y="544" width="1" height="42.5" fill="#c0c0c0"/>
<rect x="823" y="545" width="1" height="41.5" fill="#c0c0c0"/>
<rect x="831" y="547.5" width="1" height="39" fill="#c0c0c0"/>
<rect x="839" y="550" width="1" height="36.5" fill="#c0c0c0"/>
<rect x="847" y="553" width="1" height="33.5" fill="#c0c0c0"/>
<rect x="855" y="555" width="1" height="31.5" fill="#c0c0c0"/>
<rect x="863" y="558" width="1" height="28.5" fill="#c0c0c0"/>
<rect x="871" y="561" width="1" height="25.5" fill="#c0c0c0"/>
<rect x="879" y="561" width="1" height="25.5" fill="#c0c0c0"/>
<rect x="887" y="560" width="1" height="26.5" fill="#c0c0c0"/>
<rect x="895" y="562" width="1" height="24.5" fill="#c0c0c0"/>
<rect x="903" y="568" width="1" height="18.5" fill="#c0c0c0"/>
<rect x="911" y="572" width="1" height="14.5" fill="#c0c0c0"/>
<rect x="919" y="575" width="1" height="11.5" fill="#c0c0c0"/>
<rect x="927" y="577" width="1" height="9.5" fill="#c0c0c0"/>
<rect x="935" y="577" width="1" height="9.5" fill="#c0c0c0"/>
<rect x="943" y="576" width="1" height="10.5" fill="#c0c0c0"/>
<rect x="951" y="568" width="1" height="18.5" fill="#c0c0c0"/>
<rect x="959" y="565" width="1" height="21.5" fill="#c0c0c0"/>
<rect x="967" y="563" width="1" height="23.5" fill="#c0c0c0"/>
<rect x="975" y="560" width="1" height="26.5" fill="#c0c0c0"/>
<rect x="983" y="558" width="1" height="28.5" fill="#c0c0c0"/>
<rect x="991" y="554" width="1" height="32.5" fill="#c0c0c0"/>
<rect x="999" y="556" width="1" height="30.5" fill="#c0c0c0"/>
<rect x="1007" y="558" width="1" height="28.5" fill="#c0c0c0"/>
<rect x="1015" y="560" width="1" height="26.5" fill="#c0c0c0"/>
<rect x="1023" y="565" width="1" height="21.5" fill="#c0c0c0"/>
<rect x="1031" y="570" width="1" height="16.5" fill="#c0c0c0"/>
<rect x="1039" y="574" width="1" height="12.5" fill="#c0c0c0"/>
<rect x="1047" y="575" width="1" height="11.5" fill="#c0c0c0"/>
<rect x="1055" y="576" width="1" height="10.5" fill="#c0c0c0"/>
<rect x="1063" y="578" width="1" height="8.5" fill="#c0c0c0"/>
<rect x="1071" y="577" width="1" height="9.5" fill="#c0c0c0"/>
<rect x="1079" y="577" width="1" height="9.5" fill="#c0c0c0"/>
<rect x="1087" y="580" width="1" height="6.5" fill="#c0c0c0"/>
<rect x="1095" y="585.5" width="1" height="1" fill="#c0c0c0" opacity="0.6"/>
<rect x="1103" y="585.5" width="1" height="1" fill="#c0c0c0" opacity="0.6"/>
<rect x="1111" y="585.5" width="1" height="4.5" fill="#c0c0c0"/>
<rect x="1119" y="585.5" width="1" height="5.5" fill="#c0c0c0"/>
<rect x="1127" y="585.5" width="1" height="5.5" fill="#c0c0c0"/>
<rect x="1135" y="585.5" width="1" height="2" fill="#c0c0c0"/>
<rect x="1143" y="585.5" width="1" height="1" fill="#c0c0c0" opacity="0.6"/>
<rect x="1151" y="583" width="1" height="3.5" fill="#c0c0c0"/>
<rect x="1159" y="580" width="1" height="6.5" fill="#c0c0c0"/>
<rect x="1167" y="579" width="1" height="7.5" fill="#c0c0c0"/>
<rect x="1175" y="577" width="1" height="9.5" fill="#c0c0c0"/>
<rect x="1183" y="577" width="1" height="9.5" fill="#c0c0c0"/>
<rect x="1191" y="574" width="1" height="12.5" fill="#c0c0c0"/>
<rect x="1199" y="575" width="1" height="11.5" fill="#c0c0c0"/>
<rect x="1207" y="582" width="1" height="4.5" fill="#c0c0c0"/>
<rect x="1215" y="585.5" width="1" height="1" fill="#c0c0c0" opacity="0.6"/>
<rect x="1223" y="585.5" width="1" height="1.5" fill="#c0c0c0"/>
<rect x="1231" y="585.5" width="1" height="1" fill="#c0c0c0" opacity="0.6"/>
<rect x="1239" y="585" width="1" height="1.5" fill="#c0c0c0"/>
<rect x="1247" y="582.5" width="1" height="4" fill="#c0c0c0"/>
<rect x="1255" y="581" width="1" height="5.5" fill="#c0c0c0"/>
<rect x="1263" y="578" width="1" height="8.5" fill="#c0c0c0"/>
<rect x="1271" y="574" width="1" height="12.5" fill="#c0c0c0"/>
<rect x="1279" y="572" width="1" height="14.5" fill="#c0c0c0"/>
<rect x="1287" y="570" width="1" height="16.5" fill="#c0c0c0"/>
<rect x="1295" y="569" width="1" height="17.5" fill="#c0c0c0"/>
<rect x="1303" y="567" width="1" height="19.5" fill="#c0c0c0"/>
<rect x="1311" y="565" width="1" height="21.5" fill="#c0c0c0"/>
<rect x="1319" y="564" width="1" height="22.5" fill="#c0c0c0"/>
<rect x="1327" y="561" width="1" height="25.5" fill="#c0c0c0"/>
<rect x="1335" y="559" width="1" height="27.5" fill="#c0c0c0"/>
<rect x="1343" y="558" width="1" height="28.5" fill="#c0c0c0"/>
<rect x="1351" y="559" width="1" height="27.5" fill="#c0c0c0"/>
<rect x="1359" y="561" width="1" height="25.5" fill="#c0c0c0"/>
<rect x="1367" y="561" width="1" height="25.5" fill="#c0c0c0"/>
<rect x="1375" y="560" width="1" height="26.5" fill="#c0c0c0"/>
<rect x="1383" y="559" width="1" height="27.5" fill="#c0c0c0"/>
<rect x="1391" y="557" width="1" height="29.5" fill="#c0c0c0"/>
<rect x="1399" y="550" width="1" height="36.5" fill="#c0c0c0"/>
<rect x="1407" y="546" width="1" height="40.5" fill="#c0c0c0"/>
<rect x="1415" y="543" width="1" height="43.5" fill="#c0c0c0"/>
<rect x="1423" y="541" width="1" height="45.5" fill="#c0c0c0"/>
<rect x="1431" y="540" width="1" height="46.5" fill="#c0c0c0"/>
<rect x="1439" y="541" width="1" height="45.5" fill="#c0c0c0"/>
<rect x="1447" y="543" width="1" height="43.5" fill="#c0c0c0"/>
<rect x="1455" y="542" width="1" height="44.5" fill="#c0c0c0"/>
<rect x="1463" y="542" width="1" height="44.5" fill="#c0c0c0"/>
<rect x="1471" y="543" width="1" height="43.5" fill="#c0c0c0"/>
<rect x="1479" y="546" width="1" height="40.5" fill="#c0c0c0"/>
<rect x="1487" y="548" width="1" height="38.5" fill="#c0c0c0"/>
<rect x="1495" y="553" width="1" height="33.5" fill="#c0c0c0"/>
<rect x="1503" y="555" width="1" height="31.5" fill="#c0c0c0"/>
<rect x="1511" y="557" width="1" height="29.5" fill="#c0c0c0"/>
<rect x="1519" y="560" width="1" height="26.5" fill="#c0c0c0"/>
<rect x="1527" y="563" width="1" height="23.5" fill="#c0c0c0"/>
<rect x="1535" y="568" width="1" height="18.5" fill="#c0c0c0"/>
<rect x="1543" y="577" width="1" height="9.5" fill="#c0c0c0"/>
<rect x="1551" y="581" width="1" height="5.5" fill="#c0c0c0"/>
<rect x="1559" y="583" width="1" height="3.5" fill="#c0c0c0"/>
<rect x="1567" y="585" width="1" height="1.5" fill="#c0c0c0"/>
<rect x="1575" y="585.5" width="1" height="1" fill="#c0c0c0" opacity="0.6"/>
<rect x="1583" y="584" width="1" height="2.5" fill="#c0c0c0"/>
<rect x="1591" y="584" width="1" height="2.5" fill="#c0c0c0"/>
<rect x="1599" y="585.5" width="1" height="1" fill="#c0c0c0" opacity="0.6"/>
<rect x="1607" y="585.5" width="1" height="1" fill="#c0c0c0" opacity="0.6"/>
<rect x="1615" y="585.5" width="1" height="1" fill="#c0c0c0" opacity="0.6"/>
<rect x="1623" y="584.5" width="1" height="2" fill="#c0c0c0"/>
<rect x="1631" y="582" width="1" height="4.5" fill="#c0c0c0"/>
<rect x="1639" y="579" width="1" height="7.5" fill="#c0c0c0"/>
<rect x="1647" y="575" width="1" height="11.5" fill="#c0c0c0"/>
<rect x="1655" y="571" width="1" height="15.5" fill="#c0c0c0"/>
<rect x="1663" y="567.8" width="1" height="18.7" fill="#c0c0c0"/>
<rect x="1671" y="565.8" width="1" height="20.7" fill="#c0c0c0"/>
</g>
<polyline points="7,638 22,632.5 37,627.5 57,627.5 70,631 80,634 87,637.5 100,640 110,640.5 122,638 135,632.5 145,626 155,619.5 170,611 187,601 205,592.5 220,587 232,581 245,578 260,576 272,576 282,579 295,581 307,586 320,589.5 332,595 350,601 362,604.5 375,607.5 390,609 405,610 415,610 425,611 440,615 455,620.5 470,627.5 482.5,635 495,641 507.5,645.5 520,649.5 530,651 542.5,652.5 555,651 565,648 575,643 585,635 595,624 605,611 615,600 625,585 635,574 645,562.5 655,551 665,541 675,533 687.5,527 702.5,524.5 715,526 727.5,529 740,532.5 750,537 765,540 780,541 800,541 825,541 837.5,543 850,544.5 862.5,547.5 875,551 887.5,554 900,557 912.5,560 925,564.5 937.5,568 950,570.5 965,570.5 977.5,569 990,565.5 1000,562.5 1012.5,560 1032.5,559.5 1040,561 1052.5,563 1062.5,567 1075,570 1087.5,574 1100,577.5 1112.5,580.5 1125,583 1137.5,585 1150,586 1162.5,586 1175,584.5 1185,583 1195,580 1207.5,579 1225,579.5 1237.5,581 1262.5,582.5 1280,581 1287.5,579 1297.5,575 1310,572 1325,569 1335,566 1350,564 1360,561 1375,560.5 1390,558 1412.5,555.5 1425,552 1437.5,547.5 1450,546 1457.5,544 1470,542 1487.5,542.5 1500,545 1512.5,547 1520,549.7 1531.8,552.7 1543.5,558 1555,563 1567,568.8 1579,573.7 1588.7,578 1598.5,581.5 1608,583.5 1618,584.5 1628,584.5 1637.7,583.5 1647.5,582.5 1657,580.5 1665,579 1671.5,576" fill="none" stroke="#ff0000" stroke-width="1.05" stroke-linejoin="round" clip-path="url(#c2)" stroke-dasharray="2.6 2.6"/>
<g shape-rendering="crispEdges">
<line x1="7" y1="715.5" x2="1692" y2="715.5" stroke="#c0c0c0" stroke-width="1" stroke-dasharray="3 2.5"/>
<line x1="7" y1="773.5" x2="1692" y2="773.5" stroke="#c0c0c0" stroke-width="1" stroke-dasharray="3 2.5"/>
</g>
<polyline points="7,741 15,760 23,762 31,763.5 39,771 47,773 55,780 63,782 71,768 79,763.5 87,765 95,761 103,749 111,751.5 119,739 127,741.5 135,739 143,744 151,740 159,755 167,751.5 175,732 183,732 191,734 199,732 207,740 215,736.5 223,739 231,739 239,743.5 247,743.5 255,739 263,745 271,754 279,755 287,753.5 295,759 303,764 311,758.5 319,754 327,758.5 335,760 343,761 351,766.5 359,763.5 367,760 375,763.5 383,765 391,761.5 399,757 407,743.5 415,762 423,774 431,776 439,776.5 447,783 455,785 463,785 471,770 479,774 487,768 495,772 503,778.5 511,778.5 519,782 527,782 535,773.5 543,757 551,753 559,742 567,728 575,729 583,727 591,726 599,723.5 607,718 615,711.5 623,708.5 631,708.5 639,717 647,715 655,711 663,709 671,705 679,728.5 687,735 695,732 703,733.5 711,733.5 719,734 727,731 735,727 743,725 751,723 759,721.5 767,723 775,712 783,724 791,735 799,729 807,727 815,726 823,727 831,731 839,732 847,736.5 855,731.5 863,738.5 871,736.5 879,731 887,727 895,737 903,751.5 911,746.5 919,746.5 927,745.5 935,740 943,735.5 951,718 959,728.5 967,728.5 975,726.5 983,724 991,720 999,734 1007,737 1015,737 1023,746 1031,750.5 1039,747 1047,740 1055,743.5 1063,745.5 1071,736 1079,738.5 1087,750 1095,755 1103,753.5 1111,755 1119,753 1127,745.5 1135,736 1143,734 1151,733 1159,732 1167,732 1175,730 1183,738.5 1191,727 1199,742 1207,760.5 1215,759 1223,748.5 1231,740 1239,735.5 1247,734 1255,735 1263,735 1271,728 1279,730 1287,728.5 1295,728.5 1303,727 1311,723.5 1319,723.5 1327,718.5 1335,716 1343,722 1351,727 1359,732 1367,725 1375,723 1383,719 1391,715 1399,703 1407,707 1415,707 1423,706 1431,710 1439,715 1447,720 1455,713 1463,716 1471,719 1479,724 1487,722 1495,740 1503,729 1511,732 1519,738 1527,742 1535,748 1543,762 1551,752 1559,747 1567,751 1575,744 1583,738.5 1591,743.5 1599,751.5 1607,746 1615,742.7 1623,735.5 1631,735 1639,731 1647,726.7 1655,723.2 1663,725.3 1671,725.3" fill="none" stroke="#1e90ff" stroke-width="1.0" stroke-linejoin="round" clip-path="url(#c3)"/>
<g shape-rendering="crispEdges">
<rect x="1693" y="5" width="2.4" height="1" fill="#000"/>
<rect x="1693" y="38" width="2.4" height="1" fill="#000"/>
<rect x="1693" y="71" width="2.4" height="1" fill="#000"/>
<rect x="1693" y="104" width="2.4" height="1" fill="#000"/>
<rect x="1693" y="137" width="2.4" height="1" fill="#000"/>
<rect x="1693" y="170" width="2.4" height="1" fill="#000"/>
<rect x="1693" y="203" width="2.4" height="1" fill="#000"/>
<rect x="1693" y="236" width="2.4" height="1" fill="#000"/>
<rect x="1693" y="269" width="2.4" height="1" fill="#000"/>
<rect x="1693" y="302" width="2.4" height="1" fill="#000"/>
<rect x="1693" y="335" width="2.4" height="1" fill="#000"/>
<rect x="1693" y="368" width="2.4" height="1" fill="#000"/>
<rect x="1693" y="401" width="2.4" height="1" fill="#000"/>
<rect x="1693" y="434" width="2.4" height="1" fill="#000"/>
<rect x="1693" y="467" width="2.4" height="1" fill="#000"/>
<rect x="1693" y="500" width="2.4" height="1" fill="#000"/>
<rect x="1693" y="507" width="2" height="1" fill="#000"/>
<rect x="1693" y="586" width="2" height="1" fill="#000"/>
<rect x="1693" y="666" width="2" height="1" fill="#000"/>
<rect x="1693" y="671" width="2" height="1" fill="#000"/>
<rect x="1693" y="817" width="2" height="1" fill="#000"/>
<rect x="7" y="819" width="1" height="3" fill="#000"/>
<rect x="71" y="819" width="1" height="3" fill="#000"/>
<rect x="135" y="819" width="1" height="3" fill="#000"/>
<rect x="199" y="819" width="1" height="3" fill="#000"/>
<rect x="263" y="819" width="1" height="3" fill="#000"/>
<rect x="327" y="819" width="1" height="3" fill="#000"/>
<rect x="391" y="819" width="1" height="3" fill="#000"/>
<rect x="455" y="819" width="1" height="3" fill="#000"/>
<rect x="519" y="819" width="1" height="3" fill="#000"/>
<rect x="583" y="819" width="1" height="3" fill="#000"/>
<rect x="647" y="819" width="1" height="3" fill="#000"/>
<rect x="711" y="819" width="1" height="3" fill="#000"/>
<rect x="775" y="819" width="1" height="3" fill="#000"/>
<rect x="839" y="819" width="1" height="3" fill="#000"/>
<rect x="903" y="819" width="1" height="3" fill="#000"/>
<rect x="967" y="819" width="1" height="3" fill="#000"/>
<rect x="1031" y="819" width="1" height="3" fill="#000"/>
<rect x="1095" y="819" width="1" height="3" fill="#000"/>
<rect x="1159" y="819" width="1" height="3" fill="#000"/>
<rect x="1223" y="819" width="1" height="3" fill="#000"/>
<rect x="1287" y="819" width="1" height="3" fill="#000"/>
<rect x="1351" y="819" width="1" height="3" fill="#000"/>
<rect x="1415" y="819" width="1" height="3" fill="#000"/>
<rect x="1479" y="819" width="1" height="3" fill="#000"/>
<rect x="1543" y="819" width="1" height="3" fill="#000"/>
<rect x="1607" y="819" width="1" height="3" fill="#000"/>
<rect x="1671" y="819" width="1" height="3" fill="#000"/>
</g>
<text x="1698" y="8.8" fill="#000" stroke="#000" stroke-width="0.1" textLength="28.0" lengthAdjust="spacingAndGlyphs">76.770</text>
<text x="1698" y="41.8" fill="#000" stroke="#000" stroke-width="0.1" textLength="28.0" lengthAdjust="spacingAndGlyphs">75.950</text>
<text x="1698" y="74.8" fill="#000" stroke="#000" stroke-width="0.1" textLength="28.0" lengthAdjust="spacingAndGlyphs">75.150</text>
<text x="1698" y="107.8" fill="#000" stroke="#000" stroke-width="0.1" textLength="28.0" lengthAdjust="spacingAndGlyphs">74.350</text>
<text x="1698" y="140.8" fill="#000" stroke="#000" stroke-width="0.1" textLength="28.0" lengthAdjust="spacingAndGlyphs">73.550</text>
<text x="1698" y="173.8" fill="#000" stroke="#000" stroke-width="0.1" textLength="28.0" lengthAdjust="spacingAndGlyphs">72.750</text>
<text x="1698" y="206.8" fill="#000" stroke="#000" stroke-width="0.1" textLength="28.0" lengthAdjust="spacingAndGlyphs">71.950</text>
<text x="1698" y="239.8" fill="#000" stroke="#000" stroke-width="0.1" textLength="28.0" lengthAdjust="spacingAndGlyphs">71.150</text>
<text x="1698" y="272.8" fill="#000" stroke="#000" stroke-width="0.1" textLength="28.0" lengthAdjust="spacingAndGlyphs">70.350</text>
<text x="1698" y="305.8" fill="#000" stroke="#000" stroke-width="0.1" textLength="28.0" lengthAdjust="spacingAndGlyphs">69.550</text>
<text x="1698" y="338.8" fill="#000" stroke="#000" stroke-width="0.1" textLength="28.0" lengthAdjust="spacingAndGlyphs">68.750</text>
<text x="1698" y="371.8" fill="#000" stroke="#000" stroke-width="0.1" textLength="28.0" lengthAdjust="spacingAndGlyphs">67.950</text>
<text x="1698" y="404.8" fill="#000" stroke="#000" stroke-width="0.1" textLength="28.0" lengthAdjust="spacingAndGlyphs">67.150</text>
<text x="1698" y="437.8" fill="#000" stroke="#000" stroke-width="0.1" textLength="28.0" lengthAdjust="spacingAndGlyphs">66.350</text>
<text x="1698" y="470.8" fill="#000" stroke="#000" stroke-width="0.1" textLength="28.0" lengthAdjust="spacingAndGlyphs">65.550</text>
<text x="1698" y="503.8" fill="#000" stroke="#000" stroke-width="0.1" textLength="28.0" lengthAdjust="spacingAndGlyphs">64.750</text>
<g shape-rendering="crispEdges">
<rect x="1694" y="38" width="33" height="11" fill="#000"/>
<rect x="1693" y="38" width="1" height="2" fill="#000"/>
<rect x="1694" y="51" width="33" height="11" fill="#1ec41e"/>
<rect x="1694" y="154" width="33" height="11" fill="#3560de"/>
<rect x="1694" y="236" width="33" height="11" fill="#3560de"/>
<rect x="1694" y="340" width="33" height="11" fill="#3560de"/>
</g>
<text x="1698.3" y="47.1" fill="#fff" stroke="#fff" stroke-width="0.1" textLength="27.6" lengthAdjust="spacingAndGlyphs">75.830</text>
<text x="1698.3" y="60.1" fill="#fff" stroke="#fff" stroke-width="0.1" textLength="27.6" lengthAdjust="spacingAndGlyphs">75.500</text>
<text x="1698.3" y="163.1" fill="#fff" stroke="#fff" stroke-width="0.1" textLength="27.6" lengthAdjust="spacingAndGlyphs">73.000</text>
<text x="1698.3" y="245.1" fill="#fff" stroke="#fff" stroke-width="0.1" textLength="27.6" lengthAdjust="spacingAndGlyphs">71.000</text>
<text x="1698.3" y="349.1" fill="#fff" stroke="#fff" stroke-width="0.1" textLength="27.6" lengthAdjust="spacingAndGlyphs">68.500</text>
<text x="1696.6" y="516" fill="#000" stroke="#000" stroke-width="0.1" textLength="27.6" lengthAdjust="spacingAndGlyphs">1.2172</text>
<text x="1696.6" y="589.8" fill="#000" stroke="#000" stroke-width="0.1" textLength="17.6" lengthAdjust="spacingAndGlyphs">0.00</text>
<text x="1696" y="663.7" fill="#000" stroke="#000" stroke-width="0.1" textLength="31.0" lengthAdjust="spacingAndGlyphs">-1.2479</text>
<text x="1696.6" y="680" fill="#000" stroke="#000" stroke-width="0.1" textLength="15.0" lengthAdjust="spacingAndGlyphs">100</text>
<text x="1696.6" y="719" fill="#000" stroke="#000" stroke-width="0.1" textLength="10.0" lengthAdjust="spacingAndGlyphs">70</text>
<text x="1696.6" y="777" fill="#000" stroke="#000" stroke-width="0.1" textLength="10.0" lengthAdjust="spacingAndGlyphs">30</text>
<text x="1696.6" y="814.6" fill="#000" stroke="#000" stroke-width="0.1" textLength="5.0" lengthAdjust="spacingAndGlyphs">0</text>
<polygon points="9.8,9.8 16.8,9.8 13.3,13.4" fill="#000"/>
<text x="22.5" y="13.7" fill="#000" stroke="#000" stroke-width="0.1" textLength="42.5" lengthAdjust="spacingAndGlyphs">UKOil-,H4</text>
<text x="71.5" y="13.7" fill="#000" stroke="#000" stroke-width="0.1" textLength="27.4" lengthAdjust="spacingAndGlyphs">75.830</text>
<text x="102.3" y="13.7" fill="#000" stroke="#000" stroke-width="0.1" textLength="27.4" lengthAdjust="spacingAndGlyphs">75.830</text>
<text x="133.1" y="13.7" fill="#000" stroke="#000" stroke-width="0.1" textLength="27.4" lengthAdjust="spacingAndGlyphs">75.830</text>
<text x="163.9" y="13.7" fill="#000" stroke="#000" stroke-width="0.1" textLength="27.4" lengthAdjust="spacingAndGlyphs">75.830</text>
<text x="11.5" y="518" fill="#000" stroke="#000" stroke-width="0.1" textLength="127.5" lengthAdjust="spacingAndGlyphs">MACD(12,26,9) 0.3141 0.1388</text>
<text x="11.5" y="682" fill="#000" stroke="#000" stroke-width="0.1" textLength="67.5" lengthAdjust="spacingAndGlyphs">RSI(14) 62.7272</text>
<text x="6" y="831" fill="#000" stroke="#000" stroke-width="0.1" textLength="47.4" lengthAdjust="spacingAndGlyphs">6 Aug 2021</text>
<text x="70" y="831" fill="#000" stroke="#000" stroke-width="0.1" textLength="50.7" lengthAdjust="spacingAndGlyphs">9 Aug 12:00</text>
<text x="134" y="831" fill="#000" stroke="#000" stroke-width="0.1" textLength="55.8" lengthAdjust="spacingAndGlyphs">10 Aug 20:00</text>
<text x="198" y="831" fill="#000" stroke="#000" stroke-width="0.1" textLength="55.8" lengthAdjust="spacingAndGlyphs">12 Aug 04:00</text>
<text x="262" y="831" fill="#000" stroke="#000" stroke-width="0.1" textLength="55.8" lengthAdjust="spacingAndGlyphs">13 Aug 12:00</text>
<text x="326" y="831" fill="#000" stroke="#000" stroke-width="0.1" textLength="55.8" lengthAdjust="spacingAndGlyphs">16 Aug 16:00</text>
<text x="390" y="831" fill="#000" stroke="#000" stroke-width="0.1" textLength="55.8" lengthAdjust="spacingAndGlyphs">18 Aug 00:00</text>
<text x="454" y="831" fill="#000" stroke="#000" stroke-width="0.1" textLength="55.8" lengthAdjust="spacingAndGlyphs">19 Aug 08:00</text>
<text x="518" y="831" fill="#000" stroke="#000" stroke-width="0.1" textLength="55.8" lengthAdjust="spacingAndGlyphs">20 Aug 16:00</text>
<text x="582" y="831" fill="#000" stroke="#000" stroke-width="0.1" textLength="55.8" lengthAdjust="spacingAndGlyphs">23 Aug 20:00</text>
<text x="646" y="831" fill="#000" stroke="#000" stroke-width="0.1" textLength="55.8" lengthAdjust="spacingAndGlyphs">25 Aug 04:00</text>
<text x="710" y="831" fill="#000" stroke="#000" stroke-width="0.1" textLength="55.8" lengthAdjust="spacingAndGlyphs">26 Aug 16:00</text>
<text x="774" y="831" fill="#000" stroke="#000" stroke-width="0.1" textLength="55.8" lengthAdjust="spacingAndGlyphs">29 Aug 23:00</text>
<text x="838" y="831" fill="#000" stroke="#000" stroke-width="0.1" textLength="55.8" lengthAdjust="spacingAndGlyphs">31 Aug 04:00</text>
<text x="902" y="831" fill="#000" stroke="#000" stroke-width="0.1" textLength="50.0" lengthAdjust="spacingAndGlyphs">1 Sep 12:00</text>
<text x="966" y="831" fill="#000" stroke="#000" stroke-width="0.1" textLength="50.0" lengthAdjust="spacingAndGlyphs">2 Sep 20:00</text>
<text x="1030" y="831" fill="#000" stroke="#000" stroke-width="0.1" textLength="50.0" lengthAdjust="spacingAndGlyphs">6 Sep 00:00</text>
<text x="1094" y="831" fill="#000" stroke="#000" stroke-width="0.1" textLength="50.0" lengthAdjust="spacingAndGlyphs">7 Sep 12:00</text>
<text x="1158" y="831" fill="#000" stroke="#000" stroke-width="0.1" textLength="50.0" lengthAdjust="spacingAndGlyphs">8 Sep 20:00</text>
<text x="1222" y="831" fill="#000" stroke="#000" stroke-width="0.1" textLength="55.1" lengthAdjust="spacingAndGlyphs">10 Sep 00:00</text>
<text x="1286" y="831" fill="#000" stroke="#000" stroke-width="0.1" textLength="55.1" lengthAdjust="spacingAndGlyphs">13 Sep 04:00</text>
<text x="1350" y="831" fill="#000" stroke="#000" stroke-width="0.1" textLength="55.1" lengthAdjust="spacingAndGlyphs">14 Sep 12:00</text>
<text x="1414" y="831" fill="#000" stroke="#000" stroke-width="0.1" textLength="55.1" lengthAdjust="spacingAndGlyphs">15 Sep 20:00</text>
<text x="1478" y="831" fill="#000" stroke="#000" stroke-width="0.1" textLength="55.1" lengthAdjust="spacingAndGlyphs">17 Sep 04:00</text>
<text x="1542" y="831" fill="#000" stroke="#000" stroke-width="0.1" textLength="55.1" lengthAdjust="spacingAndGlyphs">20 Sep 08:00</text>
<text x="1606" y="831" fill="#000" stroke="#000" stroke-width="0.1" textLength="55.1" lengthAdjust="spacingAndGlyphs">21 Sep 16:00</text>
<text x="1670" y="831" fill="#000" stroke="#000" stroke-width="0.1" textLength="55.1" lengthAdjust="spacingAndGlyphs">22 Sep 21:15</text>
</svg>
</body></html>
